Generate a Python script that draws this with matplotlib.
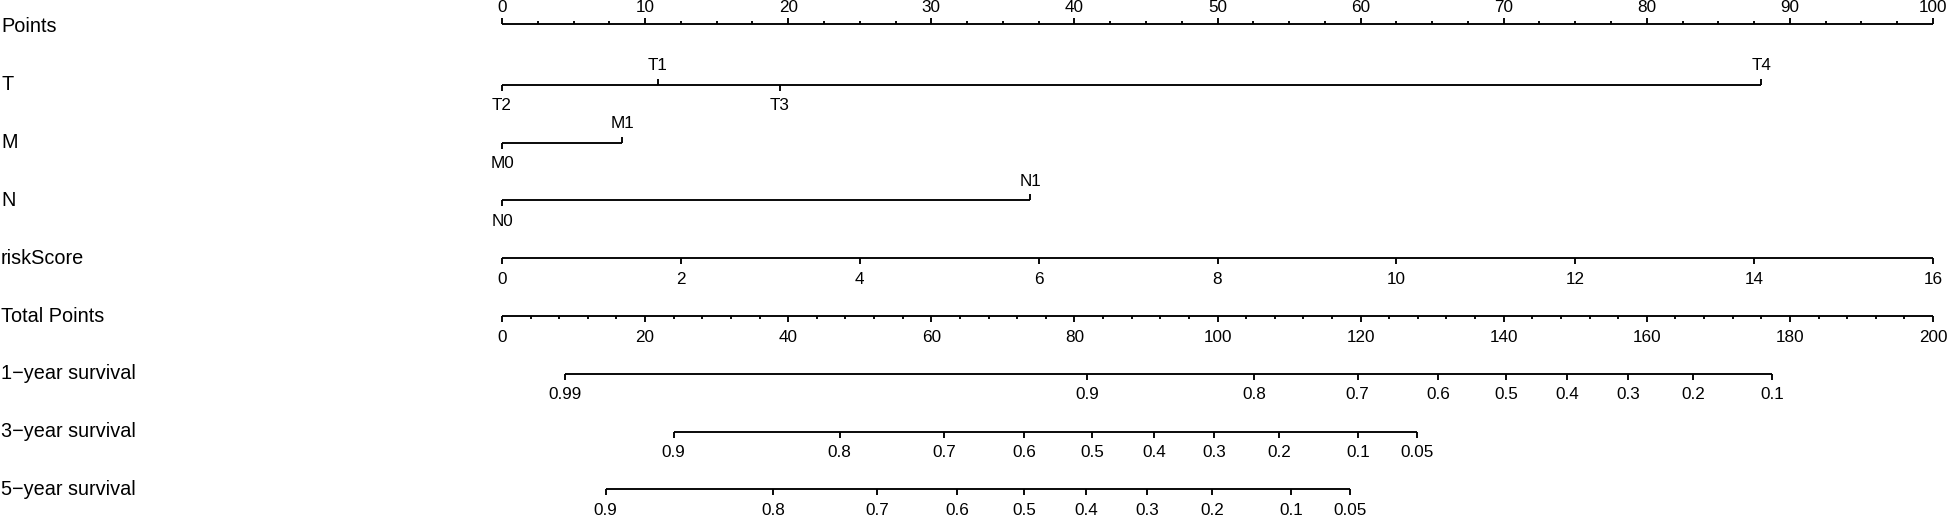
import numpy as np
import matplotlib
matplotlib.use("Agg")
import matplotlib.pyplot as plt

plt.rcParams['font.family'] = ['Liberation Sans', 'DejaVu Sans']

# ---------------- data ----------------
row_labels = ["Points", "T", "M", "N", "riskScore", "Total Points",
              "1\u2212year survival", "3\u2212year survival", "5\u2212year survival"]

points_major = [0, 10, 20, 30, 40, 50, 60, 70, 80, 90, 100]
points_minor_step = 2.5

T_levels = ["T2", "T1", "T3", "T4"]
T_points = [0.0, 10.9, 19.4, 88.0]
T_up = [False, True, False, True]

M_levels = ["M0", "M1"]
M_points = [0.0, 8.4]
M_up = [False, True]

N_levels = ["N0", "N1"]
N_points = [0.0, 36.9]
N_up = [False, True]

risk_ticks = [0, 2, 4, 6, 8, 10, 12, 14, 16]
risk_max = 16

total_major = [0, 20, 40, 60, 80, 100, 120, 140, 160, 180, 200]
total_minor_step = 4
total_max = 200

surv1_labels = ["0.99", "0.9", "0.8", "0.7", "0.6", "0.5", "0.4", "0.3", "0.2", "0.1"]
surv1_total = [8.8, 81.8, 105.1, 119.6, 130.8, 140.3, 148.9, 157.4, 166.5, 177.5]

surv3_labels = ["0.9", "0.8", "0.7", "0.6", "0.5", "0.4", "0.3", "0.2", "0.1", "0.05"]
surv3_total = [24.0, 47.2, 61.8, 73.0, 82.5, 91.1, 99.5, 108.6, 119.7, 127.9]

surv5_labels = ["0.9", "0.8", "0.7", "0.6", "0.5", "0.4", "0.3", "0.2", "0.1", "0.05"]
surv5_total = [14.5, 37.9, 52.4, 63.6, 73.0, 81.6, 90.2, 99.2, 110.3, 118.5]

# ---------------- layout ----------------
W, H = 1950, 518
fig = plt.figure(figsize=(W / 100, H / 100), dpi=100)
ax = fig.add_axes([0, 0, 1, 1])
x0_px, x100_px = 502, 1933
scale = (x100_px - x0_px) / 100.0
ax.set_xlim(-x0_px / scale, 100 + (W - x100_px) / scale)
ax.set_ylim(H, 0)
ax.axis("off")

row_y = [27 + 57.8 * i for i in range(9)]
line_y = list(row_y)
line_y[0] = 24
LW = 1.35
MAJ = 6
MIN = 3
FS_LAB = 14.3
FS_TICK = 12.3
OFF = 21

for lab, y in zip(row_labels, row_y):
    ax.text(-x0_px / scale + 1 / scale, y, lab, ha="left", va="center", fontsize=FS_LAB)


def hline(a, b, y):
    ax.plot([a, b], [y, y], color="black", lw=LW, solid_capstyle="butt")


def tick(x, y, length, up):
    ax.plot([x, x], [y, y - length if up else y + length], color="black", lw=LW,
            solid_capstyle="butt")


def tlabel(x, y, s, up):
    ax.text(x, y - OFF + 2 if up else y + OFF, s, ha="center", va="center", fontsize=FS_TICK)


# Points axis (labels above)
y = line_y[0]
hline(0, 100, y)
for v in np.arange(0, 100 + 1e-9, points_minor_step):
    if v not in points_major:
        tick(v, y, MIN, True)
for v in points_major:
    tick(v, y, MAJ, True)
    ax.text(v, y - 16, str(v), ha="center", va="center", fontsize=FS_TICK)

# categorical rows
for ri, (levs, pts, ups) in zip([1, 2, 3], [(T_levels, T_points, T_up),
                                              (M_levels, M_points, M_up),
                                              (N_levels, N_points, N_up)]):
    y = line_y[ri]
    hline(min(pts), max(pts), y)
    for l, p, u in zip(levs, pts, ups):
        tick(p, y, MAJ, u)
        tlabel(p, y, l, u)

# riskScore
y = line_y[4]
hline(0, 100, y)
for v in risk_ticks:
    p = v * 100.0 / risk_max
    tick(p, y, MAJ, False)
    tlabel(p, y, str(v), False)

# Total points
y = line_y[5]
hline(0, 100, y)
for v in np.arange(0, total_max + 1e-9, total_minor_step):
    if int(v) not in total_major:
        tick(v * 100.0 / total_max, y, MIN, False)
for v in total_major:
    p = v * 100.0 / total_max
    tick(p, y, MAJ, False)
    tlabel(p, y, str(v), False)

# survival rows
for ri, labs, tots in [(6, surv1_labels, surv1_total),
                       (7, surv3_labels, surv3_total),
                       (8, surv5_labels, surv5_total)]:
    y = line_y[ri]
    pts = [t * 100.0 / total_max for t in tots]
    hline(min(pts), max(pts), y)
    for l, p in zip(labs, pts):
        tick(p, y, MAJ, False)
        tlabel(p, y, l, False)

fig.savefig("out.png", dpi=100)
